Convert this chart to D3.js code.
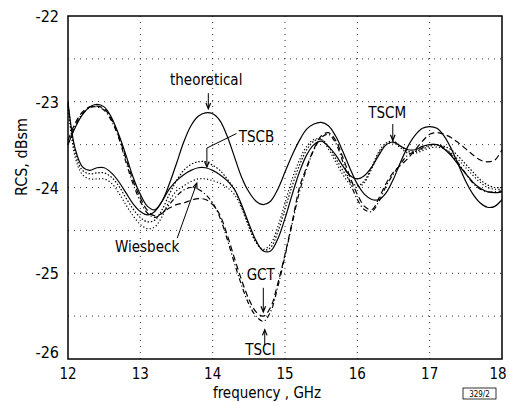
<html>
<head>
<meta charset="UTF-8">
<style>
  body { margin: 0; background: #fff; }
  text { font-family: "DejaVu Sans Condensed", "DejaVu Sans", sans-serif; fill: #000; }
</style>
</head>
<body>
<svg id="chart"></svg>
<script src="https://d3js.org/d3.v7.min.js"></script>
<script>
// frequency grid, GHz (step 0.1)
const freq = d3.range(0, 61).map(i => +(12 + i * 0.1).toFixed(1));

// RCS values, dBsm
const theoretical = [-23.50,-23.30,-23.15,-23.06,-23.03,-23.06,-23.18,-23.38,-23.62,-23.88,
  -24.08,-24.22,-24.26,-24.16,-23.96,-23.72,-23.47,-23.28,-23.17,-23.13,
  -23.14,-23.22,-23.40,-23.64,-23.88,-24.05,-24.16,-24.20,-24.16,-24.02,
  -23.82,-23.62,-23.45,-23.32,-23.26,-23.24,-23.28,-23.40,-23.58,-23.78,
  -23.96,-24.08,-24.14,-24.14,-24.06,-23.90,-23.70,-23.52,-23.39,-23.31,
  -23.29,-23.31,-23.40,-23.55,-23.74,-23.93,-24.08,-24.18,-24.23,-24.22,-24.14];
const tscb = [-23.00,-23.55,-23.76,-23.80,-23.77,-23.77,-23.83,-23.93,-24.06,-24.19,
  -24.28,-24.32,-24.28,-24.16,-24.02,-23.92,-23.85,-23.80,-23.77,-23.77,
  -23.80,-23.85,-23.92,-24.02,-24.20,-24.42,-24.62,-24.74,-24.74,-24.60,
  -24.36,-24.08,-23.82,-23.62,-23.50,-23.46,-23.52,-23.62,-23.75,-23.86,
  -23.90,-23.86,-23.76,-23.62,-23.50,-23.47,-23.52,-23.56,-23.56,-23.52,
  -23.50,-23.50,-23.55,-23.63,-23.74,-23.84,-23.94,-24.01,-24.05,-24.06,-24.05];
const tscm = [-23.02,-23.60,-23.80,-23.84,-23.83,-23.83,-23.88,-23.98,-24.12,-24.25,
  -24.35,-24.40,-24.38,-24.26,-24.08,-23.92,-23.80,-23.73,-23.70,-23.70,
  -23.74,-23.80,-23.90,-24.02,-24.22,-24.45,-24.64,-24.73,-24.70,-24.52,
  -24.25,-23.98,-23.74,-23.56,-23.46,-23.44,-23.52,-23.66,-23.80,-23.92,
  -23.98,-23.92,-23.76,-23.58,-23.48,-23.46,-23.52,-23.58,-23.58,-23.55,
  -23.52,-23.50,-23.52,-23.56,-23.64,-23.73,-23.82,-23.91,-23.97,-24.00,-24.00];
const wiesbeck = [-23.05,-23.65,-23.85,-23.90,-23.90,-23.90,-23.95,-24.06,-24.20,-24.33,
  -24.43,-24.48,-24.46,-24.34,-24.16,-24.04,-23.98,-23.93,-23.90,-23.90,
  -23.92,-23.95,-24.00,-24.08,-24.24,-24.46,-24.64,-24.72,-24.66,-24.46,
  -24.18,-23.90,-23.68,-23.52,-23.44,-23.44,-23.55,-23.70,-23.85,-23.96,
  -24.00,-23.94,-23.78,-23.60,-23.50,-23.48,-23.54,-23.60,-23.60,-23.57,
  -23.54,-23.53,-23.55,-23.60,-23.68,-23.77,-23.86,-23.94,-24.00,-24.02,-24.02];
const gct = [-23.45,-23.25,-23.12,-23.06,-23.05,-23.08,-23.20,-23.40,-23.66,-23.92,
  -24.12,-24.27,-24.33,-24.30,-24.24,-24.20,-24.18,-24.15,-24.13,-24.14,
  -24.20,-24.32,-24.55,-24.82,-25.08,-25.30,-25.45,-25.50,-25.40,-25.12,
  -24.78,-24.40,-24.00,-23.76,-23.55,-23.40,-23.36,-23.45,-23.65,-23.88,
  -24.08,-24.22,-24.26,-24.12,-23.95,-23.82,-23.74,-23.66,-23.56,-23.46,
  -23.38,-23.36,-23.38,-23.42,-23.48,-23.55,-23.62,-23.68,-23.70,-23.68,-23.56];
const tsci = [-23.50,-23.28,-23.14,-23.07,-23.06,-23.10,-23.22,-23.42,-23.70,-23.96,
  -24.16,-24.30,-24.35,-24.30,-24.20,-24.10,-24.03,-24.00,-24.02,-24.08,
  -24.18,-24.35,-24.60,-24.88,-25.14,-25.36,-25.50,-25.56,-25.45,-25.16,
  -24.80,-24.42,-24.05,-23.78,-23.56,-23.42,-23.38,-23.48,-23.70,-23.94,
  -24.14,-24.26,-24.28,-24.16,-23.98,-23.84,-23.72,-23.62,-23.58,-23.54,
  -23.50,-23.50,-23.54,-23.62,-23.72,-23.84,-23.95,-24.02,-24.05,-24.05,-24.04];

const xTicks = [12, 13, 14, 15, 16, 17, 18];
const yTicks = [-22, -23, -24, -25, -26];
const yGrid = [-22.5, -23, -23.5, -24, -24.5, -25, -25.5];

const series = [
  { name: "theoretical", values: theoretical, dash: null },
  { name: "TSCB", values: tscb, dash: null },
  { name: "TSCM", values: tscm, dash: "1.5,1.8" },
  { name: "Wiesbeck", values: wiesbeck, dash: "1.2,2.2" },
  { name: "GCT", values: gct, dash: "6,3.5" },
  { name: "TSCI", values: tsci, dash: "5,2.5,1.2,2.5" }
];

const width = 509, height = 402;
const margin = { top: 16, right: 7, bottom: 43, left: 68 };

const svg = d3.select("#chart").attr("width", width).attr("height", height);

const x = d3.scaleLinear().domain([12, 18]).range([margin.left, width - margin.right]);
const y = d3.scaleLinear().domain([-26, -22]).range([height - margin.bottom, margin.top]);

// grid
svg.append("g").selectAll("line").data(xTicks.slice(1, -1)).enter().append("line")
  .attr("x1", d => x(d)).attr("x2", d => x(d))
  .attr("y1", y(-22)).attr("y2", y(-26))
  .attr("stroke", "#333").attr("stroke-width", 1).attr("stroke-dasharray", "1,5");
svg.append("g").selectAll("line").data(yGrid).enter().append("line")
  .attr("x1", x(12)).attr("x2", x(18))
  .attr("y1", d => y(d)).attr("y2", d => y(d))
  .attr("stroke", "#333").attr("stroke-width", 1).attr("stroke-dasharray", "1,5");

// frame
svg.append("rect")
  .attr("x", x(12)).attr("y", y(-22))
  .attr("width", x(18) - x(12)).attr("height", y(-26) - y(-22))
  .attr("fill", "none").attr("stroke", "#000").attr("stroke-width", 1.5);

// axes labels (last one nudged left so it stays inside the page)
svg.append("g").selectAll("text").data(xTicks).enter().append("text")
  .attr("x", d => x(d) - (d === 18 ? 4 : 0)).attr("y", y(-26) + 20)
  .attr("text-anchor", "middle").attr("font-size", 15)
  .text(d => d);
svg.append("g").selectAll("text").data(yTicks).enter().append("text")
  .attr("x", x(12) - 9).attr("y", d => y(d) + (d === -26 ? -1 : 6))
  .attr("text-anchor", "end").attr("font-size", 16)
  .text(d => d);

svg.append("text")
  .attr("x", 267).attr("y", 398)
  .attr("text-anchor", "middle").attr("font-size", 15)
  .text("frequency , GHz");
svg.append("text")
  .attr("transform", "translate(27,157) rotate(-90)")
  .attr("text-anchor", "middle").attr("font-size", 16)
  .text("RCS, dBsm");

// figure number box
svg.append("rect").attr("x", 463).attr("y", 388).attr("width", 33).attr("height", 11)
  .attr("fill", "none").attr("stroke", "#000").attr("stroke-width", 0.8);
svg.append("text").attr("x", 479.5).attr("y", 397).attr("text-anchor", "middle")
  .attr("font-size", 8).text("329/2");

// curves
const line = d3.line()
  .x((d, i) => x(freq[i]))
  .y(d => y(d))
  .curve(d3.curveCatmullRom.alpha(0.5));

svg.append("g").selectAll("path").data(series).enter().append("path")
  .attr("d", d => line(d.values))
  .attr("fill", "none")
  .attr("stroke", "#000")
  .attr("stroke-width", 1.2)
  .attr("stroke-dasharray", d => d.dash);

// annotations
function arrow(pts) {
  const p = pts.map(q => [x(q[0]), y(q[1])]);
  svg.append("path").attr("d", d3.line()(p))
    .attr("fill", "none").attr("stroke", "#000").attr("stroke-width", 1);
  const a = p[p.length - 2], b = p[p.length - 1];
  const ang = Math.atan2(b[1] - a[1], b[0] - a[0]);
  const L = 6, w = 0.4;
  svg.append("path")
    .attr("d", d3.line()([
      [b[0] - L * Math.cos(ang - w), b[1] - L * Math.sin(ang - w)],
      b,
      [b[0] - L * Math.cos(ang + w), b[1] - L * Math.sin(ang + w)]
    ]))
    .attr("fill", "none").attr("stroke", "#000").attr("stroke-width", 1.2);
}
function label(t, f, v) {
  svg.append("text").attr("x", x(f)).attr("y", y(v)).attr("font-size", 15).text(t);
}

label("theoretical", 13.41, -22.8);
arrow([[13.94, -22.9], [13.94, -23.08]]);
label("TSCB", 14.36, -23.47);
arrow([[14.33, -23.37], [13.92, -23.54], [13.92, -23.76]]);
label("TSCM", 16.15, -23.19);
arrow([[16.49, -23.26], [16.49, -23.45]]);
label("Wiesbeck", 12.65, -24.75);
arrow([[13.51, -24.59], [13.78, -23.95]]);
label("GCT", 14.47, -25.08);
arrow([[14.7, -25.17], [14.7, -25.45]]);
label("TSCI", 14.45, -25.95);
arrow([[14.72, -25.84], [14.72, -25.66]]);
</script>
</body>
</html>
